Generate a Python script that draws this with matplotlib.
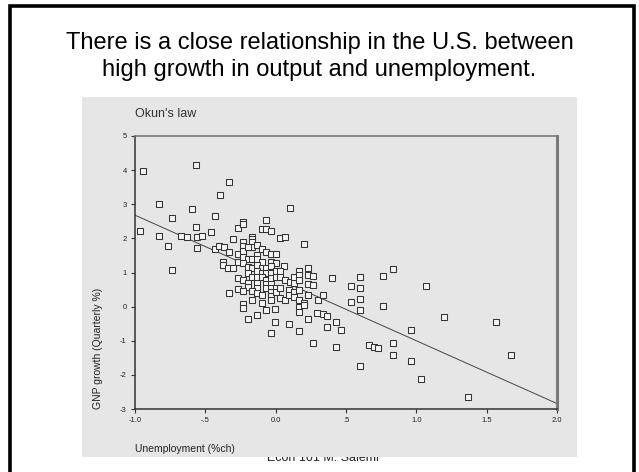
import matplotlib.pyplot as plt
from matplotlib.patches import Rectangle

# quarterly change in unemployment (%) and GNP growth (quarterly %)
unemp = [-0.94, -0.564, -0.332, -0.398, -0.832, 0.10, -0.595, -0.739, -0.431, -0.071, -0.23,
         -0.962, -0.564, -0.832, -0.673, -0.628, -0.562, -0.526, -0.462, -0.763, -0.562, -0.737,
         -0.301, -0.265, -0.23, -0.097, -0.069, -0.033, 0.033, 0.064, 0.204, -0.431, -0.40,
         -0.365, -0.332, -0.372, -0.372, -0.336, -0.301, -0.27, -0.265, -0.23, -0.23, -0.23,
         -0.166, -0.166, -0.166, -0.166, -0.199, -0.135, -0.10, -0.071, -0.035, 0.0, -0.135,
         -0.23, -0.199, -0.166, -0.135, -0.10, -0.035, 0.0, 0.062, -0.23, -0.199, -0.166,
         -0.135, -0.10, -0.069, -0.035, -0.135, -0.10, -0.069, -0.035, 0.0, 0.031, -0.199,
         -0.166, -0.135, -0.10, -0.069, -0.035, 0.0, 0.031, 0.067, 0.102, 0.133, 0.133,
         0.168, 0.168, 0.168, 0.232, 0.232, 0.268, 0.232, 0.268, -0.265, -0.23, -0.199,
         -0.199, -0.135, -0.135, -0.069, -0.069, -0.035, -0.035, -0.035, -0.035, -0.035, 0.0,
         0.0, 0.031, 0.031, 0.067, 0.097, 0.097, 0.133, 0.133, 0.168, 0.168, 0.202, 0.232,
         0.299, 0.334, -0.265, -0.23, -0.166, -0.329, -0.135, -0.10, -0.166, -0.10, -0.23,
         -0.23, -0.069, -0.005, 0.168, 0.168, 0.202, -0.135, -0.199, -0.005, 0.097, 0.168,
         0.232, 0.297, 0.334, 0.365, 0.427, 0.365, 0.463, -0.035, 0.403, 0.533, 0.60, 0.60,
         0.765, 0.832, 0.533, 0.60, 0.60, 0.765, 1.067, 1.196, 1.564, 0.962,
         0.268, 0.427, 0.666, 0.70, 0.73, 0.832, 0.832, 0.96, 0.60, 1.03, 1.367, 1.67]
gnp = [3.97, 4.16, 3.64, 3.28, 3.01, 2.89, 2.85, 2.60, 2.66, 2.54, 2.48,
       2.21, 2.32, 2.08, 2.08, 2.05, 2.05, 2.08, 2.18, 1.78, 1.72, 1.06,
       1.97, 2.29, 2.41, 2.27, 2.27, 2.21, 2.0, 2.03, 1.83, 1.68, 1.79,
       1.74, 1.59, 1.32, 1.22, 1.14, 1.14, 1.32, 1.53, 1.90, 1.78, 1.64,
       2.05, 1.97, 1.90, 1.76, 1.74, 1.81, 1.68, 1.59, 1.53, 1.53, 1.51,
       1.46, 1.39, 1.39, 1.39, 1.32, 1.32, 1.27, 1.20, 1.27, 1.17, 1.14,
       1.22, 1.14, 1.14, 1.20, 1.03, 1.0, 1.0, 1.0, 1.03, 1.03, 0.98,
       0.86, 0.86, 0.88, 0.78, 0.83, 0.86, 0.88, 0.78, 0.73, 0.68, 0.88,
       1.05, 0.93, 0.78, 1.12, 0.93, 0.91, 0.65, 0.63, 0.83, 0.78, 0.68,
       0.58, 0.68, 0.54, 0.65, 0.54, 0.65, 0.54, 0.44, 0.31, 0.20, 0.54,
       0.44, 0.54, 0.24, 0.20, 0.49, 0.34, 0.44, 0.29, 0.49, 0.20, 0.10, 0.34,
       0.20, 0.34, 0.51, 0.47, 0.46, 0.41, 0.39, 0.34, 0.19, 0.10, 0.07,
       -0.03, -0.10, -0.08, -0.02, -0.17, 0.05, -0.26, -0.36, -0.46, -0.51, -0.71,
       -0.36, -0.20, -0.23, -0.27, -0.44, -0.59, -0.68, -0.76, 0.85, 0.60, 0.54, 0.86,
       0.90, 1.09, 0.13, 0.21, -0.10, 0.02, 0.60, -0.31, -0.46, -0.68,
       -1.08, -1.19, -1.12, -1.19, -1.22, -1.08, -1.43, -1.59, -1.73, -2.13, -2.66, -1.43]

# fitted line: gnp = fit_a + fit_b * unemp
fit_a = 0.84
fit_b = -1.84
fit_x = [-1.0, 2.0]

xticks = [-1.0, -0.5, 0.0, 0.5, 1.0, 1.5, 2.0]
xtick_labels = ['-1.0', '-.5', '0.0', '.5', '1.0', '1.5', '2.0']
yticks = [-3, -2, -1, 0, 1, 2, 3, 4, 5]

title = "There is a close relationship in the U.S. between\nhigh growth in output and unemployment."

plt.rcParams['font.family'] = 'Liberation Sans'
plt.rcParams['axes.unicode_minus'] = False

fig = plt.figure(figsize=(6.39, 4.72), dpi=100)

# slide frame
fig.patches.append(Rectangle((10/639, -0.1), 624/639, 1.1 - 5.5/472, transform=fig.transFigure,
                             fill=False, edgecolor='black', lw=2.6, zorder=5))

fig.text(0.5, 0.88, title, ha='center', va='center', fontsize=17, linespacing=1.32)

# footer sits behind the grey chart panel
fig.text(0.505, (472 - 461)/472, 'Econ 101 M. Salemi', ha='center', va='baseline',
         fontsize=9, color='#222222', zorder=-2)

panel = Rectangle((82/639, 15/472), 495/639, 360/472, transform=fig.transFigure,
                  facecolor='#e6e6e6', edgecolor='none', zorder=-1)
fig.patches.append(panel)

ax = fig.add_axes([135/639, 63/472, 422/639, 273/472])
ax.set_facecolor('#e6e6e6')

ax.plot(fit_x, [fit_a + fit_b*v for v in fit_x], color='#444444', lw=0.7, zorder=2)
ax.plot(unemp, gnp, ls='None', marker='s', ms=3.7, mfc='#f4f4f4', mec='#333333',
        mew=0.75, zorder=3)

ax.set_xlim(-1.0, 2.0)
ax.set_ylim(-3, 5)
ax.set_xticks(xticks)
ax.set_xticklabels(xtick_labels)
ax.set_yticks(yticks)
ax.tick_params(direction='out', length=3, width=0.8, color='#333333',
               labelsize=5.5, labelcolor='#222222', pad=3)

for side in ['left', 'bottom']:
    ax.spines[side].set_color('#333333')
    ax.spines[side].set_linewidth(1.1)
ax.spines['top'].set_color('#7a7a7a')
ax.spines['top'].set_linewidth(1.2)
ax.spines['right'].set_color('#7a7a7a')
ax.spines['right'].set_linewidth(2.2)

ax.set_title("Okun's law", loc='left', fontsize=9, color='#333333', pad=14)
ax.set_xlabel('Unemployment (%ch)', loc='left', fontsize=7.5, color='#222222', labelpad=14)
ax.set_ylabel('GNP growth (Quarterly %)', loc='bottom', fontsize=7.5, color='#222222',
              labelpad=12)

plt.savefig('out.png', dpi=100)
